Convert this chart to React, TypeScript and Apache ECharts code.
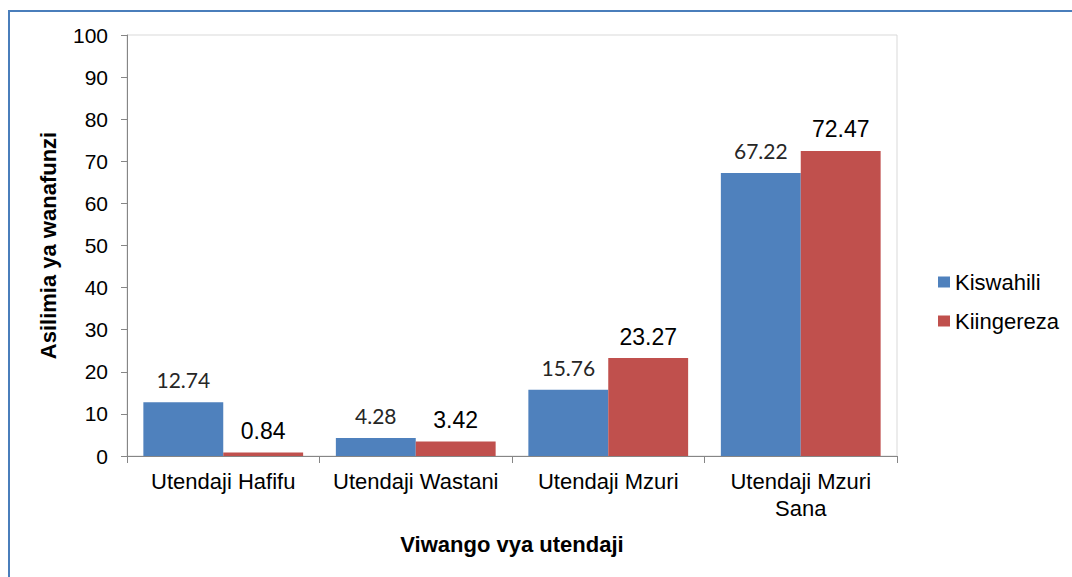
import React, { useEffect, useRef } from "react";
import * as echarts from "echarts";

const categories = ["Utendaji Hafifu", "Utendaji Wastani", "Utendaji Mzuri", "Utendaji Mzuri\nSana"];
const kiswahili = [12.74, 4.28, 15.76, 67.22];
const kiingereza = [0.84, 3.42, 23.27, 72.47];
const seriesNames = ["Kiswahili", "Kiingereza"];

export default function App() {
  const ref = useRef<HTMLDivElement>(null);
  useEffect(() => {
    const chart = echarts.init(ref.current!, null, { renderer: "svg" });
    const axisColor = "#868686";
    chart.setOption({
      animation: false,
      backgroundColor: "#ffffff",
      textStyle: { fontFamily: "Liberation Sans" },
      graphic: [
        {
          type: "rect",
          shape: { x: 9, y: 11, width: 1200, height: 700 },
          style: { fill: "none", stroke: "#4a7ebb", lineWidth: 2 },
          silent: true,
        },
      ],
      grid: {
        left: 127,
        right: 175,
        top: 35,
        bottom: 121,
        show: true,
        borderColor: "#d9d9d9",
        borderWidth: 1,
      },
      legend: {
        orient: "vertical",
        left: 933,
        top: 266,
        itemWidth: 12,
        itemHeight: 11,
        itemGap: 17,
        icon: "rect",
        data: seriesNames,
        textStyle: { fontSize: 22, lineHeight: 22, color: "#000", fontFamily: "Liberation Sans" },
      },
      xAxis: {
        type: "category",
        data: categories,
        name: "Viwango vya utendaji",
        nameLocation: "middle",
        nameGap: 77,
        nameTextStyle: { fontSize: 22, fontWeight: "bold", color: "#000", fontFamily: "Liberation Sans" },
        axisLine: { lineStyle: { color: axisColor, width: 1 } },
        axisTick: { show: true, length: 7, lineStyle: { color: axisColor } },
        axisLabel: { fontSize: 22, color: "#000", margin: 12, lineHeight: 27, fontFamily: "Liberation Sans", interval: 0 },
      },
      yAxis: {
        type: "value",
        min: 0,
        max: 100,
        interval: 10,
        name: "Asilimia ya wanafunzi",
        nameLocation: "middle",
        nameGap: 68,
        nameRotate: 90,
        nameTextStyle: { fontSize: 22, fontWeight: "bold", color: "#000", fontFamily: "Liberation Sans" },
        axisLine: { show: true, lineStyle: { color: axisColor, width: 1 } },
        axisTick: { show: true, length: 6, lineStyle: { color: axisColor } },
        splitLine: { show: false },
        axisLabel: { fontSize: 21, color: "#000", margin: 19, fontFamily: "Liberation Sans" },
      },
      series: [
        {
          name: seriesNames[0],
          type: "bar",
          data: kiswahili,
          barGap: "0%",
          barCategoryGap: "17%",
          itemStyle: { color: "#4f81bd" },
          label: {
            show: true,
            position: "top",
            distance: 12,
            fontSize: 21,
            color: "#262626",
            fontFamily: "Lato",
          },
        },
        {
          name: seriesNames[1],
          type: "bar",
          data: kiingereza,
          barGap: "0%",
          barCategoryGap: "17%",
          itemStyle: { color: "#c0504d" },
          label: {
            show: true,
            position: "top",
            distance: 10,
            fontSize: 23,
            color: "#000",
            fontFamily: "Liberation Sans",
          },
        },
      ],
    });
    return () => chart.dispose();
  }, []);
  return <div ref={ref} style={{ position: "fixed", left: 0, top: 0, width: 1072, height: 577 }} />;
}
